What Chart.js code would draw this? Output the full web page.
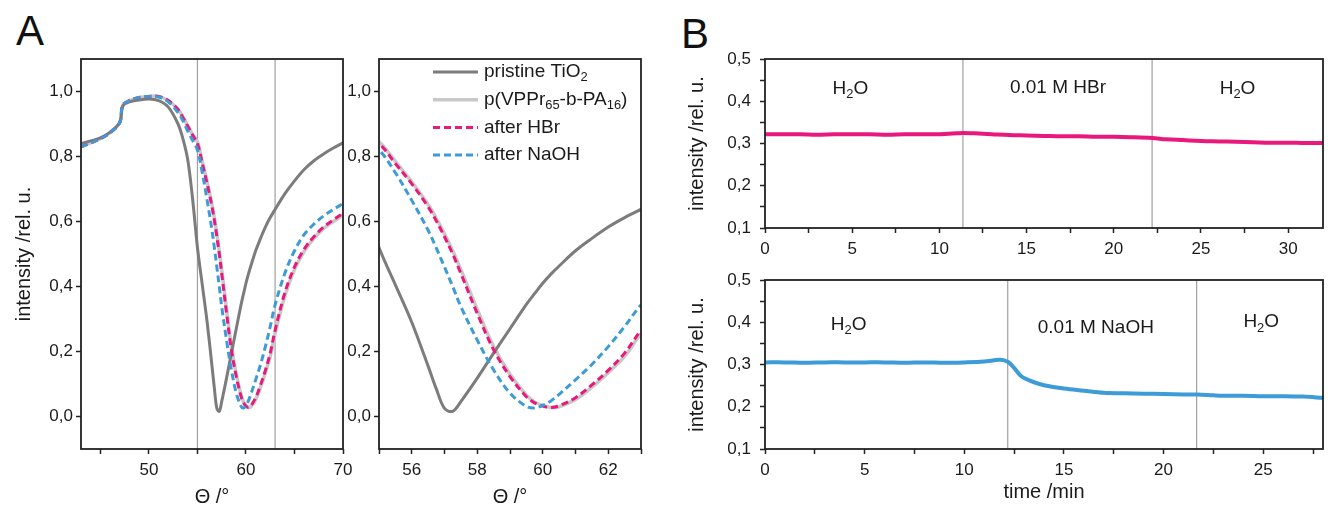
<!DOCTYPE html>
<html>
<head>
<meta charset="utf-8">
<script src="https://cdn.jsdelivr.net/npm/chart.js@4.4.0/dist/chart.umd.min.js"></script>
<style>
  body { margin: 0; width: 1331px; height: 506px; background: #fff; position: relative; overflow: hidden;
         font-family: "Liberation Sans", Arial, sans-serif; }
  .box { position: absolute; }
  .panel { position: absolute; font-size: 42px; line-height: 1; color: #111; }
</style>
</head>
<body>
<div class="panel" style="left:16px;top:10px">A</div>
<div class="panel" style="left:681px;top:13px">B</div>
<div class="box" style="left:0px;top:40px;width:360px;height:476px"><canvas id="chartA1"></canvas></div>
<div class="box" style="left:340px;top:40px;width:320px;height:476px"><canvas id="chartA2"></canvas></div>
<div class="box" style="left:680px;top:40px;width:651px;height:220px"><canvas id="chartB1"></canvas></div>
<div class="box" style="left:680px;top:260px;width:651px;height:256px"><canvas id="chartB2"></canvas></div>
<script>
// ---- data, panel A (reflectivity vs angle) ----
const theta = [43, 44, 45, 46, 47, 47.3, 48, 49, 50, 51, 52, 53, 53.5, 54, 54.5, 55, 55.5, 56, 56.5, 56.75, 57, 57.25, 57.5,
  58, 58.5, 59, 59.5, 59.75, 60, 60.25, 60.5, 61, 61.5, 62, 62.5, 63, 64, 65, 66, 67, 68, 69, 70];
const pristine = [0.84, 0.848, 0.857, 0.875, 0.905, 0.955, 0.968, 0.974, 0.977, 0.972, 0.952, 0.9, 0.855, 0.79, 0.67, 0.52, 0.405, 0.29, 0.155, 0.085, 0.025, 0.016, 0.046,
  0.118, 0.195, 0.27, 0.345, 0.378, 0.41, 0.438, 0.463, 0.51, 0.548, 0.583, 0.612, 0.637, 0.685, 0.725, 0.76, 0.787, 0.808, 0.826, 0.842];
const polymer = [0.83, 0.842, 0.855, 0.873, 0.905, 0.958, 0.972, 0.982, 0.985, 0.985, 0.972, 0.945, 0.922, 0.895, 0.868, 0.845, 0.785, 0.722, 0.652, 0.61, 0.562, 0.51, 0.452,
  0.33, 0.215, 0.13, 0.066, 0.045, 0.034, 0.028, 0.03, 0.052, 0.09, 0.135, 0.185, 0.255, 0.37, 0.452, 0.508, 0.548, 0.578, 0.6, 0.62];
const afterHBr = [0.83, 0.842, 0.855, 0.873, 0.905, 0.958, 0.972, 0.982, 0.985, 0.985, 0.972, 0.945, 0.92, 0.893, 0.866, 0.84, 0.778, 0.716, 0.645, 0.602, 0.553, 0.5, 0.44,
  0.317, 0.205, 0.123, 0.061, 0.042, 0.032, 0.028, 0.033, 0.058, 0.097, 0.142, 0.195, 0.265, 0.38, 0.46, 0.515, 0.553, 0.583, 0.605, 0.625];
const afterNaOH = [0.83, 0.842, 0.855, 0.873, 0.905, 0.958, 0.972, 0.982, 0.985, 0.983, 0.968, 0.935, 0.91, 0.878, 0.85, 0.82, 0.75, 0.665, 0.573, 0.518, 0.46, 0.4, 0.338,
  0.235, 0.143, 0.072, 0.031, 0.026, 0.034, 0.048, 0.068, 0.113, 0.16, 0.215, 0.277, 0.343, 0.44, 0.51, 0.56, 0.592, 0.617, 0.637, 0.655];
const seriesNames = ['pristine TiO_{2}', 'p(VPPr_{65}-b-PA_{16})', 'after HBr', 'after NaOH'];
const angleMarks = [55, 63];

// ---- data, panel B (kinetics) ----
const timeHBr = [0, 1, 2, 3, 4, 5, 6, 7, 8, 9, 10, 11, 11.35, 12, 13, 14, 15, 16, 17, 18, 19, 20, 21, 22.2, 23, 24, 25, 26, 27, 28, 29, 30, 31, 32];
const intensityHBr = [0.322, 0.322, 0.322, 0.321, 0.322, 0.322, 0.322, 0.321, 0.322, 0.322, 0.322, 0.324, 0.325, 0.324, 0.322, 0.32, 0.319, 0.318, 0.317, 0.317,
  0.316, 0.316, 0.315, 0.313, 0.31, 0.308, 0.306, 0.305, 0.304, 0.303, 0.302, 0.302, 0.301, 0.301];
const switchHBr = [11.35, 22.2];
const notesHBr = [{ x: 4.9, y: 0.43, text: 'H_{2}O' }, { x: 16.8, y: 0.432, text: '0.01 M HBr' }, { x: 27.1, y: 0.43, text: 'H_{2}O' }];

const timeNaOH = [0, 1, 2, 3, 4, 5, 6, 7, 8, 9, 10, 11, 11.8, 12.2, 12.5, 12.8, 13, 13.5, 14, 15, 16, 17, 18, 19, 20, 21, 21.7, 22.5, 23, 24, 25, 26, 27, 28];
const intensityNaOH = [0.305, 0.305, 0.304, 0.305, 0.305, 0.305, 0.305, 0.304, 0.305, 0.304, 0.305, 0.307, 0.311, 0.306, 0.292, 0.275, 0.268, 0.258, 0.251, 0.243,
  0.238, 0.233, 0.232, 0.231, 0.23, 0.229, 0.229, 0.227, 0.226, 0.226, 0.225, 0.225, 0.224, 0.221];
const switchNaOH = [12.18, 21.66];
const notesNaOH = [{ x: 4.2, y: 0.393, text: 'H_{2}O' }, { x: 16.6, y: 0.386, text: '0.01 M NaOH' }, { x: 24.9, y: 0.4, text: 'H_{2}O' }];

const FONT = '"Liberation Sans", Arial, sans-serif';
Chart.defaults.font.family = FONT;
Chart.defaults.color = '#1a1a1a';
Chart.defaults.animation = false;

function isMultiple(v, m) { const r = v / m; return Math.abs(r - Math.round(r)) < 1e-6; }
function comma(v) { return v.toFixed(1).replace('.', ','); }
function plain(v) { return String(Math.round(v)); }

// text with _{..} subscripts
function drawRich(ctx, text, x, y, size, align) {
  const parts = text.split(/(_\{[^}]*\})/).filter(Boolean)
    .map(p => p.startsWith('_{') ? { t: p.slice(2, -1), sub: true } : { t: p, sub: false });
  let w = 0;
  parts.forEach(p => { ctx.font = (p.sub ? size * 0.68 : size) + 'px ' + FONT; p.w = ctx.measureText(p.t).width; w += p.w; });
  let cx = align === 'center' ? x - w / 2 : x;
  ctx.textAlign = 'left';
  ctx.textBaseline = 'middle';
  parts.forEach(p => {
    ctx.font = (p.sub ? size * 0.68 : size) + 'px ' + FONT;
    ctx.fillText(p.t, cx, p.sub ? y + size * 0.3 : y);
    cx += p.w;
  });
}

const framePlugin = {
  id: 'frame',
  beforeDatasetsDraw(chart, args, opts) {
    const { ctx, chartArea: a, scales: { x } } = chart;
    ctx.save();
    ctx.strokeStyle = '#a0a0a0';
    ctx.lineWidth = 1.2;
    (opts.lines || []).forEach(v => {
      const px = x.getPixelForValue(v);
      ctx.beginPath(); ctx.moveTo(px, a.top); ctx.lineTo(px, a.bottom); ctx.stroke();
    });
    ctx.restore();
  },
  afterDraw(chart, args, opts) {
    const { ctx, chartArea: a, scales: { x, y } } = chart;
    ctx.save();
    ctx.fillStyle = '#1a1a1a';
    (opts.notes || []).forEach(n => drawRich(ctx, n.text, x.getPixelForValue(n.x), y.getPixelForValue(n.y), 19, 'center'));
    if (opts.legend) {
      const L = opts.legend;
      chart.data.datasets.forEach((ds, i) => {
        const yy = a.top + L.top + i * L.row;
        ctx.strokeStyle = ds.borderColor;
        ctx.lineWidth = ds.borderWidth;
        ctx.setLineDash(ds.borderDash || []);
        ctx.beginPath(); ctx.moveTo(a.left + L.left, yy); ctx.lineTo(a.left + L.left + L.len, yy); ctx.stroke();
        ctx.setLineDash([]);
        drawRich(ctx, ds.label, a.left + L.left + L.len + 6, yy, 19, 'left');
      });
    }
    ctx.strokeStyle = '#222';
    ctx.lineWidth = 1.8;
    ctx.strokeRect(a.left, a.top, a.right - a.left, a.bottom - a.top);
    ctx.restore();
  }
};

function makeScale(o) {
  return {
    type: 'linear', min: o.min, max: o.max,
    border: { display: false },
    grid: { drawOnChartArea: false, drawTicks: true, tickLength: 5, tickWidth: 1.5, tickColor: '#222' },
    ticks: {
      autoSkip: false, maxRotation: 0, padding: o.pad,
      font: { size: 17 }, color: '#1a1a1a',
      callback: v => isMultiple(v, o.major) ? o.fmt(v) : ''
    },
    afterBuildTicks: s => {
      const t = [];
      for (let v = o.from; v <= o.to + 1e-9; v += o.step) t.push({ value: Math.round(v * 1e6) / 1e6 });
      s.ticks = t;
    },
    title: o.title ? { display: true, text: o.title, font: { size: 20 }, color: '#1a1a1a', padding: o.titlePad } : { display: false },
    afterFit: s => {
      if (s.isHorizontal()) s.height = o.size; else s.width = o.size;
      s.paddingLeft = 0; s.paddingRight = 0; s.paddingTop = 0; s.paddingBottom = 0;
    }
  };
}

function pts(xs, ys) { return xs.map((x, i) => ({ x: x, y: ys[i] })); }

function angleDatasets() {
  const base = { pointRadius: 0, fill: false, tension: 0.35 };
  return [
    Object.assign({ label: seriesNames[0], data: pts(theta, pristine), borderColor: '#7c7c7c', borderWidth: 3, order: 3 }, base),
    Object.assign({ label: seriesNames[1], data: pts(theta, polymer), borderColor: '#c8c8c8', borderWidth: 3.5, order: 4 }, base),
    Object.assign({ label: seriesNames[2], data: pts(theta, afterHBr), borderColor: '#e8187c', borderWidth: 3, borderDash: [7, 4], order: 2 }, base),
    Object.assign({ label: seriesNames[3], data: pts(theta, afterNaOH), borderColor: '#3d9bd8', borderWidth: 3, borderDash: [7, 4], order: 1 }, base)
  ];
}

const common = { responsive: true, maintainAspectRatio: false, events: [] };

new Chart(document.getElementById('chartA1'), {
  type: 'line',
  data: { datasets: angleDatasets() },
  options: Object.assign({}, common, {
    layout: { padding: { left: 0, top: 19, right: 17, bottom: 0 } },
    plugins: { legend: { display: false }, tooltip: { enabled: false }, frame: { lines: angleMarks } },
    scales: {
      x: makeScale({ min: 43, max: 70, from: 45, to: 70, step: 5, major: 10, fmt: plain, pad: 6, size: 67, title: 'Θ /°', titlePad: { top: 0, bottom: 7 } }),
      y: makeScale({ min: -0.1, max: 1.1, from: 0, to: 1, step: 0.2, major: 0.2, fmt: comma, pad: 3, size: 81, title: 'intensity /rel. u.', titlePad: { top: 12, bottom: 0 } })
    }
  }),
  plugins: [framePlugin]
});

new Chart(document.getElementById('chartA2'), {
  type: 'line',
  data: { datasets: angleDatasets() },
  options: Object.assign({}, common, {
    layout: { padding: { left: 0, top: 19, right: 19, bottom: 0 } },
    plugins: { legend: { display: false }, tooltip: { enabled: false }, frame: { legend: { top: 13, row: 27.7, left: 54, len: 45 } } },
    scales: {
      x: makeScale({ min: 55, max: 63, from: 55, to: 63, step: 1, major: 2, fmt: plain, pad: 6, size: 67, title: 'Θ /°', titlePad: { top: 0, bottom: 7 } }),
      y: makeScale({ min: -0.1, max: 1.1, from: 0, to: 1, step: 0.2, major: 0.2, fmt: comma, pad: 3, size: 39 })
    }
  }),
  plugins: [framePlugin]
});

function kineticChart(id, xs, ys, color, xmax, lines, notes, xTitle, xSize, topPad) {
  return new Chart(document.getElementById(id), {
    type: 'line',
    data: { datasets: [{ label: 'intensity', data: pts(xs, ys), borderColor: color, borderWidth: 4, pointRadius: 0, fill: false, tension: 0.35 }] },
    options: Object.assign({}, common, {
      layout: { padding: { left: 0, top: topPad, right: 8, bottom: 0 } },
      plugins: { legend: { display: false }, tooltip: { enabled: false }, frame: { lines: lines, notes: notes } },
      scales: {
        x: makeScale({ min: 0, max: xmax, from: 0, to: xmax, step: 2.5, major: 5, fmt: plain, pad: 6, size: xSize, title: xTitle, titlePad: { top: 0, bottom: 12 } }),
        y: makeScale({ min: 0.1, max: 0.5, from: 0.1, to: 0.5, step: 0.05, major: 0.1, fmt: comma, pad: 9, size: 85, title: 'intensity /rel. u.', titlePad: { top: 5, bottom: 0 } })
      }
    }),
    plugins: [framePlugin]
  });
}

kineticChart('chartB1', timeHBr, intensityHBr, '#e8187c', 32, switchHBr, notesHBr, null, 32, 19);
kineticChart('chartB2', timeNaOH, intensityNaOH, '#3d9bd8', 28, switchNaOH, notesNaOH, 'time /min', 67, 20);
</script>
</body>
</html>
